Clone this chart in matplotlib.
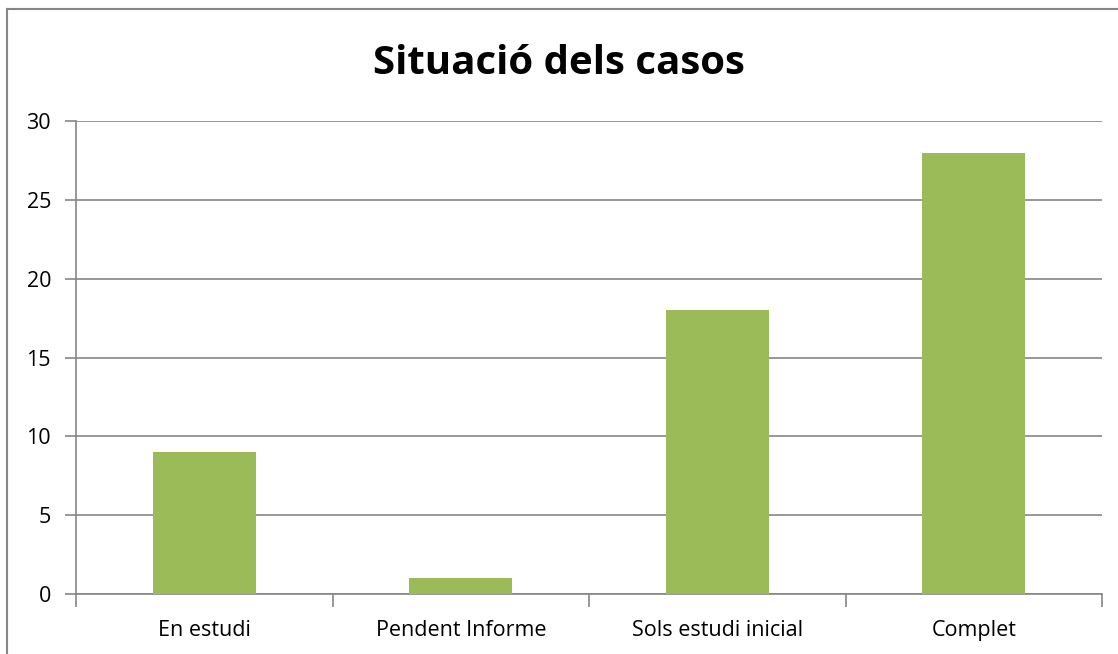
import matplotlib.pyplot as plt
from matplotlib.lines import Line2D

categories = ["En estudi", "Pendent Informe", "Sols estudi inicial", "Complet"]
values = [9, 1, 18, 28]
y_ticks = [0, 5, 10, 15, 20, 25, 30]

BAR_COLOR = "#9BBB59"
GRID_COLOR = "#868686"

plt.rcParams['font.family'] = ['Open Sans', 'DejaVu Sans']

fig = plt.figure(figsize=(11.18, 6.54), dpi=100)
ax = fig.add_axes([76 / 1118, 60 / 654, (1102 - 76) / 1118, (594 - 121) / 654])

x = list(range(len(categories)))
ax.bar(x, values, width=0.4, color=BAR_COLOR, zorder=3)

ax.set_xlim(-0.5, len(categories) - 0.5)
ax.set_ylim(0, 30)
ax.set_yticks(y_ticks)
ax.set_xticks(x)
ax.set_xticklabels(categories)

# gridlines only horizontal, grey
ax.yaxis.grid(True, color=GRID_COLOR, linewidth=1.2, zorder=0)
for side in ("top", "right"):
    ax.spines[side].set_visible(False)
for side in ("left", "bottom"):
    ax.spines[side].set_color(GRID_COLOR)
    ax.spines[side].set_linewidth(1.2)

# category boundary ticks on x axis
ax.set_xticks([i - 0.5 for i in range(len(categories) + 1)], minor=True)
ax.tick_params(axis="x", which="major", length=0, pad=19, labelsize=15.5)
ax.tick_params(axis="x", which="minor", length=9, width=1.2, color=GRID_COLOR)
ax.tick_params(axis="y", length=8, width=1.2, color=GRID_COLOR, pad=10, labelsize=15.5)

fig.text(0.5, 1 - 64 / 654, "Situació dels casos", ha="center", va="center",
         fontsize=29, fontweight="bold")

# outer chart border (only left and top visible in the crop)
fig.add_artist(Line2D([7 / 1118, 7 / 1118], [0, 1 - 9 / 654], transform=fig.transFigure,
                      color=GRID_COLOR, linewidth=1.5))
fig.add_artist(Line2D([7 / 1118, 1], [1 - 9 / 654, 1 - 9 / 654], transform=fig.transFigure,
                      color=GRID_COLOR, linewidth=1.5))

fig.savefig("out.png", dpi=100)
